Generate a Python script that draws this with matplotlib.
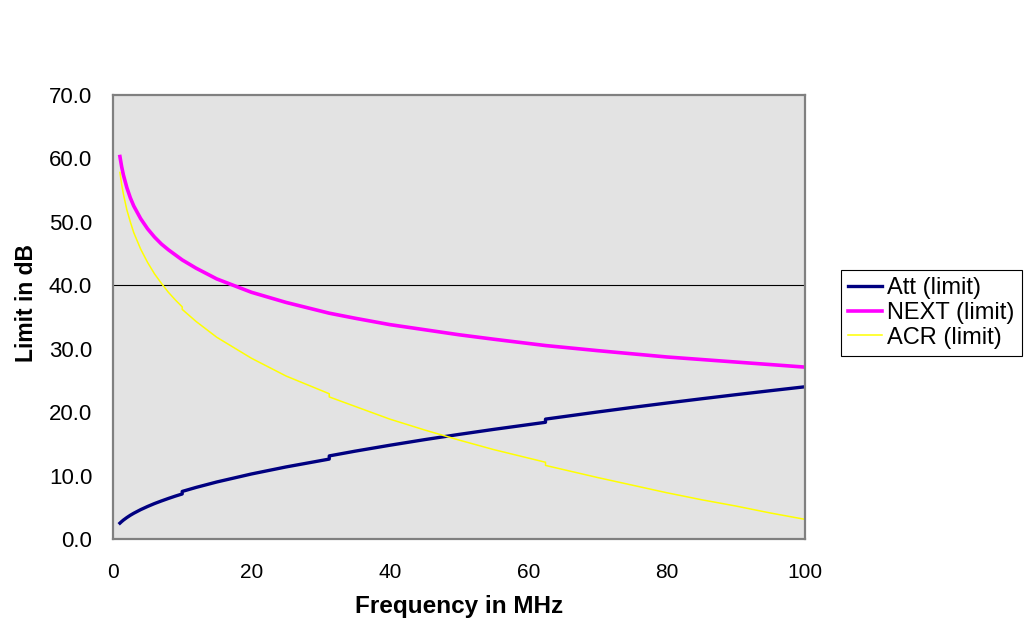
import matplotlib
matplotlib.use("Agg")
import matplotlib.pyplot as plt
from matplotlib.ticker import MultipleLocator, FixedLocator

# Data (frequency in MHz; steps in Att/ACR at 10, 31.25, 62.5 MHz)
freq = [1, 1.25, 1.5, 2, 2.5, 3, 4, 5, 6, 7, 8, 9, 10, 10, 12, 15, 20, 25,
        31.25, 31.25, 35, 40, 45, 50, 55, 62.5, 62.5, 70, 75, 80, 85, 90, 95, 100]
att = [2.5, 2.75, 2.98, 3.38, 3.74, 4.06, 4.63, 5.13, 5.59, 6.0, 6.39, 6.76, 7.1, 7.5,
       8.13, 8.99, 10.25, 11.36, 12.6, 13.1, 13.85, 14.78, 15.66, 16.49, 17.28,
       18.4, 18.9, 20.02, 20.74, 21.43, 22.1, 22.75, 23.38, 24.0]
next_ = [60.3, 58.7, 57.4, 55.4, 53.8, 52.5, 50.5, 48.9, 47.6, 46.5, 45.6, 44.8, 44.0, 44.0,
         42.7, 41.0, 38.9, 37.3, 35.6, 35.6, 34.8, 33.8, 33.0, 32.2, 31.5,
         30.5, 30.5, 29.7, 29.2, 28.7, 28.3, 27.9, 27.5, 27.1]
acr = [57.8, 55.9, 54.4, 51.9, 50.0, 48.3, 45.7, 43.6, 41.8, 40.3, 38.9, 37.7, 36.6, 36.2,
       34.3, 31.8, 28.5, 25.7, 22.9, 22.4, 20.9, 18.9, 17.2, 15.6, 14.1,
       12.1, 11.6, 9.7, 8.5, 7.3, 6.2, 5.2, 4.1, 3.1]
series_names = ["Att (limit)", "NEXT (limit)", "ACR (limit)"]

plt.rcParams['font.family'] = ['Liberation Sans', 'DejaVu Sans']

W, H = 1031, 628
fig = plt.figure(figsize=(W / 100, H / 100), dpi=100)
fig.patch.set_facecolor('white')
ax = fig.add_axes([113 / W, (H - 539) / H, 692 / W, 444 / H])
ax.set_facecolor('#E3E3E3')

ax.plot(freq, att, color='#000080', lw=2.4, label=series_names[0], solid_joinstyle='round')
ax.plot(freq, next_, color='#FF00FF', lw=2.6, label=series_names[1], solid_joinstyle='round')
ax.plot(freq, acr, color='#FFFF00', lw=1.1, label=series_names[2])

ax.axhline(40, color='black', lw=0.8, zorder=1)

ax.set_xlim(0, 100)
ax.set_ylim(0, 70)
ax.xaxis.set_major_locator(MultipleLocator(20))
ax.yaxis.set_major_locator(MultipleLocator(10))
ax.yaxis.set_minor_locator(FixedLocator([0, 40]))
ax.set_yticklabels([f"{v:.1f}" for v in ax.get_yticks()])
ax.tick_params(axis='x', which='major', length=0, pad=17, labelsize=15)
ax.tick_params(axis='y', which='major', length=0, pad=15, labelsize=16)
ax.tick_params(axis='y', which='minor', length=6, width=0.8, color='black', direction='out')
ax.tick_params(axis='x', which='minor', length=0)

for s in ax.spines.values():
    s.set_color('#808080')
    s.set_linewidth(1.6)

ax.set_xlabel("Frequency in MHz", fontsize=17.5, fontweight='bold', labelpad=10)
ax.set_ylabel("Limit in dB", fontsize=16.5, fontweight='bold')
ax.yaxis.set_label_coords(-0.108, (539 - 303) / 444)

leg = fig.legend(loc='upper left', bbox_to_anchor=(841 / W, 1 - 270 / H),
                 fontsize=17, frameon=True, fancybox=False, edgecolor='black',
                 framealpha=1, handlelength=1.45, handletextpad=0.2,
                 borderpad=0.3, labelspacing=0.12, borderaxespad=0)
leg.get_frame().set_linewidth(0.8)

fig.savefig("out.png", dpi=100)
